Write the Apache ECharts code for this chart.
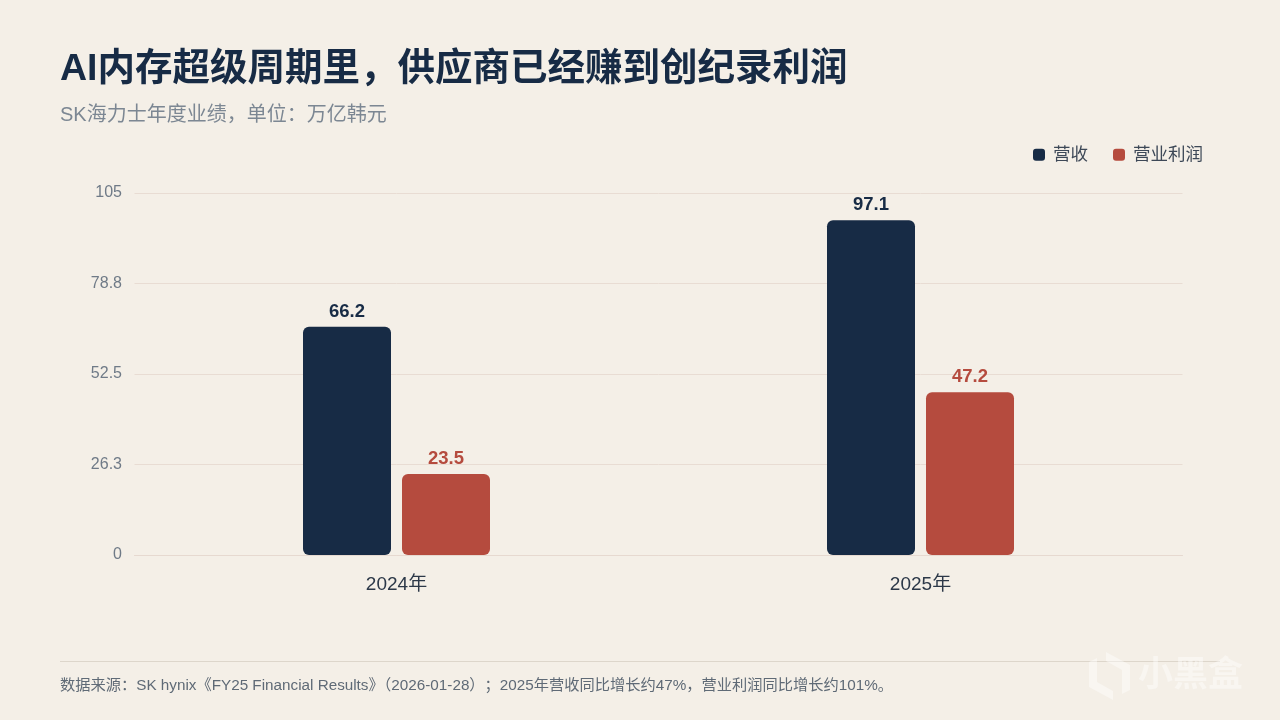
<!DOCTYPE html>
<html><head><meta charset="utf-8">
<style>html,body{margin:0;padding:0;background:#f4efe7}#c{width:1280px;height:720px}</style>
<script src="https://cdn.jsdelivr.net/npm/echarts@6/dist/echarts.min.js"></script>
</head><body><div id="c"></div>
<script>
const categories = ['2024年', '2025年'];
const revenue = [66.2, 97.1];
const profit = [23.5, 47.2];
const yTickLabels = ['0', '26.3', '52.5', '78.8', '105'];
const FONT = '"Liberation Sans","Noto Sans CJK SC",sans-serif';
const chart = echarts.init(document.getElementById('c'), null, {renderer:'canvas'});
chart.setOption({
  backgroundColor:'#f4efe7',
  textStyle:{fontFamily:FONT},
  animation:false,
  title:{
    text:'AI内存超级周期里，供应商已经赚到创纪录利润',
    left:55, top:46,
    textStyle:{fontSize:37.5,fontWeight:700,color:'#172b45',fontFamily:FONT},
    subtext:'SK海力士年度业绩，单位：万亿韩元',
    subtextStyle:{fontSize:20,color:'#7c8793',fontFamily:FONT},
    itemGap:17
  },
  legend:{
    right:72, top:141, itemWidth:12, itemHeight:12, itemGap:25,
    icon:'roundRect',
    textStyle:{fontSize:17.5,color:'#3d4857',fontFamily:FONT,padding:[0,0,0,3]},
    data:['营收','营业利润']
  },
  grid:{left:134.5,right:97.5,top:193,bottom:165},
  xAxis:{
    type:'category', data:categories,
    axisLine:{show:true,lineStyle:{color:'#e6d9d0',width:1}},
    axisTick:{show:false},
    axisLabel:{fontSize:19,color:'#2c3848',margin:20,fontFamily:FONT}
  },
  yAxis:{
    type:'value', min:0, max:105, interval:26.25,
    axisLine:{show:false}, axisTick:{show:false},
    splitLine:{lineStyle:{color:'#e8dcd3',width:1}},
    axisLabel:{
      fontSize:16,color:'#6f7a87',margin:12.5,fontFamily:FONT,padding:[4,0,0,0],
      formatter:(v)=>yTickLabels[Math.round(v/26.25)]
    }
  },
  series:[
    {name:'营收',type:'bar',data:revenue,barWidth:88,barGap:'12.5%',
     itemStyle:{color:'#172b45',borderRadius:6},
     label:{show:true,position:'top',distance:6,fontSize:18.5,fontWeight:600,color:'#172b45',fontFamily:FONT}},
    {name:'营业利润',type:'bar',data:profit,barWidth:88,
     itemStyle:{color:'#b54b3e',borderRadius:6},
     label:{show:true,position:'top',distance:6,fontSize:18.5,fontWeight:600,color:'#b54b3e',fontFamily:FONT}}
  ],
  graphic:[
    {type:'line',silent:true,shape:{x1:60,y1:661.5,x2:1220,y2:661.5},style:{stroke:'#ddd6cb',lineWidth:1}},
    {type:'text',left:60,top:678,style:{text:'数据来源：SK hynix《FY25 Financial Results》（2026-01-28）；2025年营收同比增长约47%，营业利润同比增长约101%。',fontSize:15.25,fill:'#5f6a76',fontFamily:FONT}},
    {type:'text',left:1138,top:659,style:{text:'小黑盒',fontSize:35,fontWeight:700,fill:'rgba(255,255,255,0.42)',fontFamily:FONT}},
    {type:'polygon',silent:true,shape:{points:[[1106,652],[1130,665],[1130,690],[1122,694],[1122,670],[1106,661]]},style:{fill:'rgba(255,255,255,0.42)'}},
    {type:'polygon',silent:true,shape:{points:[[1113,700],[1089,687],[1089,662],[1097,658],[1097,682],[1113,691]]},style:{fill:'rgba(255,255,255,0.42)'}}
  ]
});
</script></body></html>
